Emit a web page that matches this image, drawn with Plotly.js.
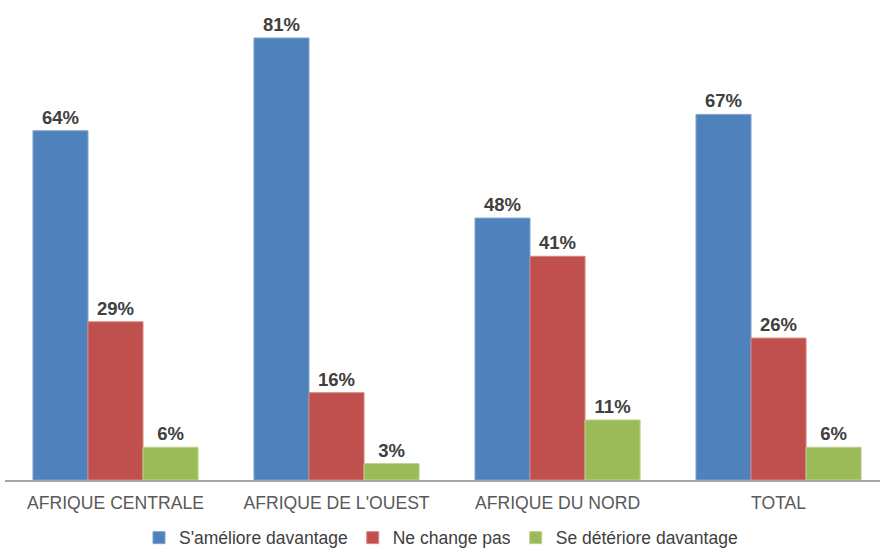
<!DOCTYPE html>
<html>
<head>
<meta charset="utf-8">
<script src="https://cdn.plot.ly/plotly-3.0.1.min.js"></script>
<style>html,body{margin:0;padding:0;background:#fff;}#chart{width:882px;height:551px;}</style>
</head>
<body>
<div id="chart"></div>
<script>
const categories = ["AFRIQUE CENTRALE", "AFRIQUE DE L'OUEST", "AFRIQUE DU NORD", "TOTAL"];
const seriesNames = ["S'améliore davantage", "Ne change pas", "Se détériore davantage"];
const ameliore = [64, 81, 48, 67];
const neChangePas = [29, 16, 41, 26];
const deteriore = [6, 3, 11, 6];
const colors = ["#4F81BD", "#C0504D", "#9BBB59"];
const lineColors = ["#7FA3D0", "#D88784", "#B9D28A"];

const values = [ameliore, neChangePas, deteriore];
const traces = values.map((v, i) => ({
  type: 'bar',
  name: seriesNames[i],
  x: categories,
  y: v,
  text: v.map(d => d + '%'),
  textposition: 'outside',
  cliponaxis: false,
  textfont: {family: 'Liberation Sans, Arial, sans-serif', size: 18.5, color: '#404040', weight: 'bold'},
  marker: {color: colors[i], line: {color: lineColors[i], width: 1}},
  hoverinfo: 'skip'
}));

const layout = {
  width: 882, height: 551,
  margin: {l: 5, r: 2, t: 10, b: 71, autoexpand: false},
  paper_bgcolor: '#ffffff', plot_bgcolor: '#ffffff',
  barmode: 'group',
  bargap: 0.253,
  bargroupgap: 0,
  showlegend: true,
  legend: {
    orientation: 'h', xref: 'container', yref: 'container',
    x: 0.5, xanchor: 'center', y: 0.024, yanchor: 'middle',
    font: {family: 'Liberation Sans, Arial, sans-serif', size: 17.5, color: '#404040'},
    itemwidth: 30, tracegroupgap: 0
  },
  xaxis: {
    type: 'category',
    range: [-0.5, 3.459],
    showline: true, linecolor: '#A6A6A6', linewidth: 2,
    ticks: '', ticklabelstandoff: 6, showgrid: false, zeroline: false,
    tickfont: {family: 'Liberation Sans, Arial, sans-serif', size: 17.6, color: '#595959'}
  },
  yaxis: {
    range: [0, 86.13],
    visible: false, showgrid: false, zeroline: false
  },
  font: {family: 'Liberation Sans, Arial, sans-serif'}
};

Plotly.newPlot('chart', traces, layout, {displayModeBar: false, staticPlot: true});
</script>
</body>
</html>
